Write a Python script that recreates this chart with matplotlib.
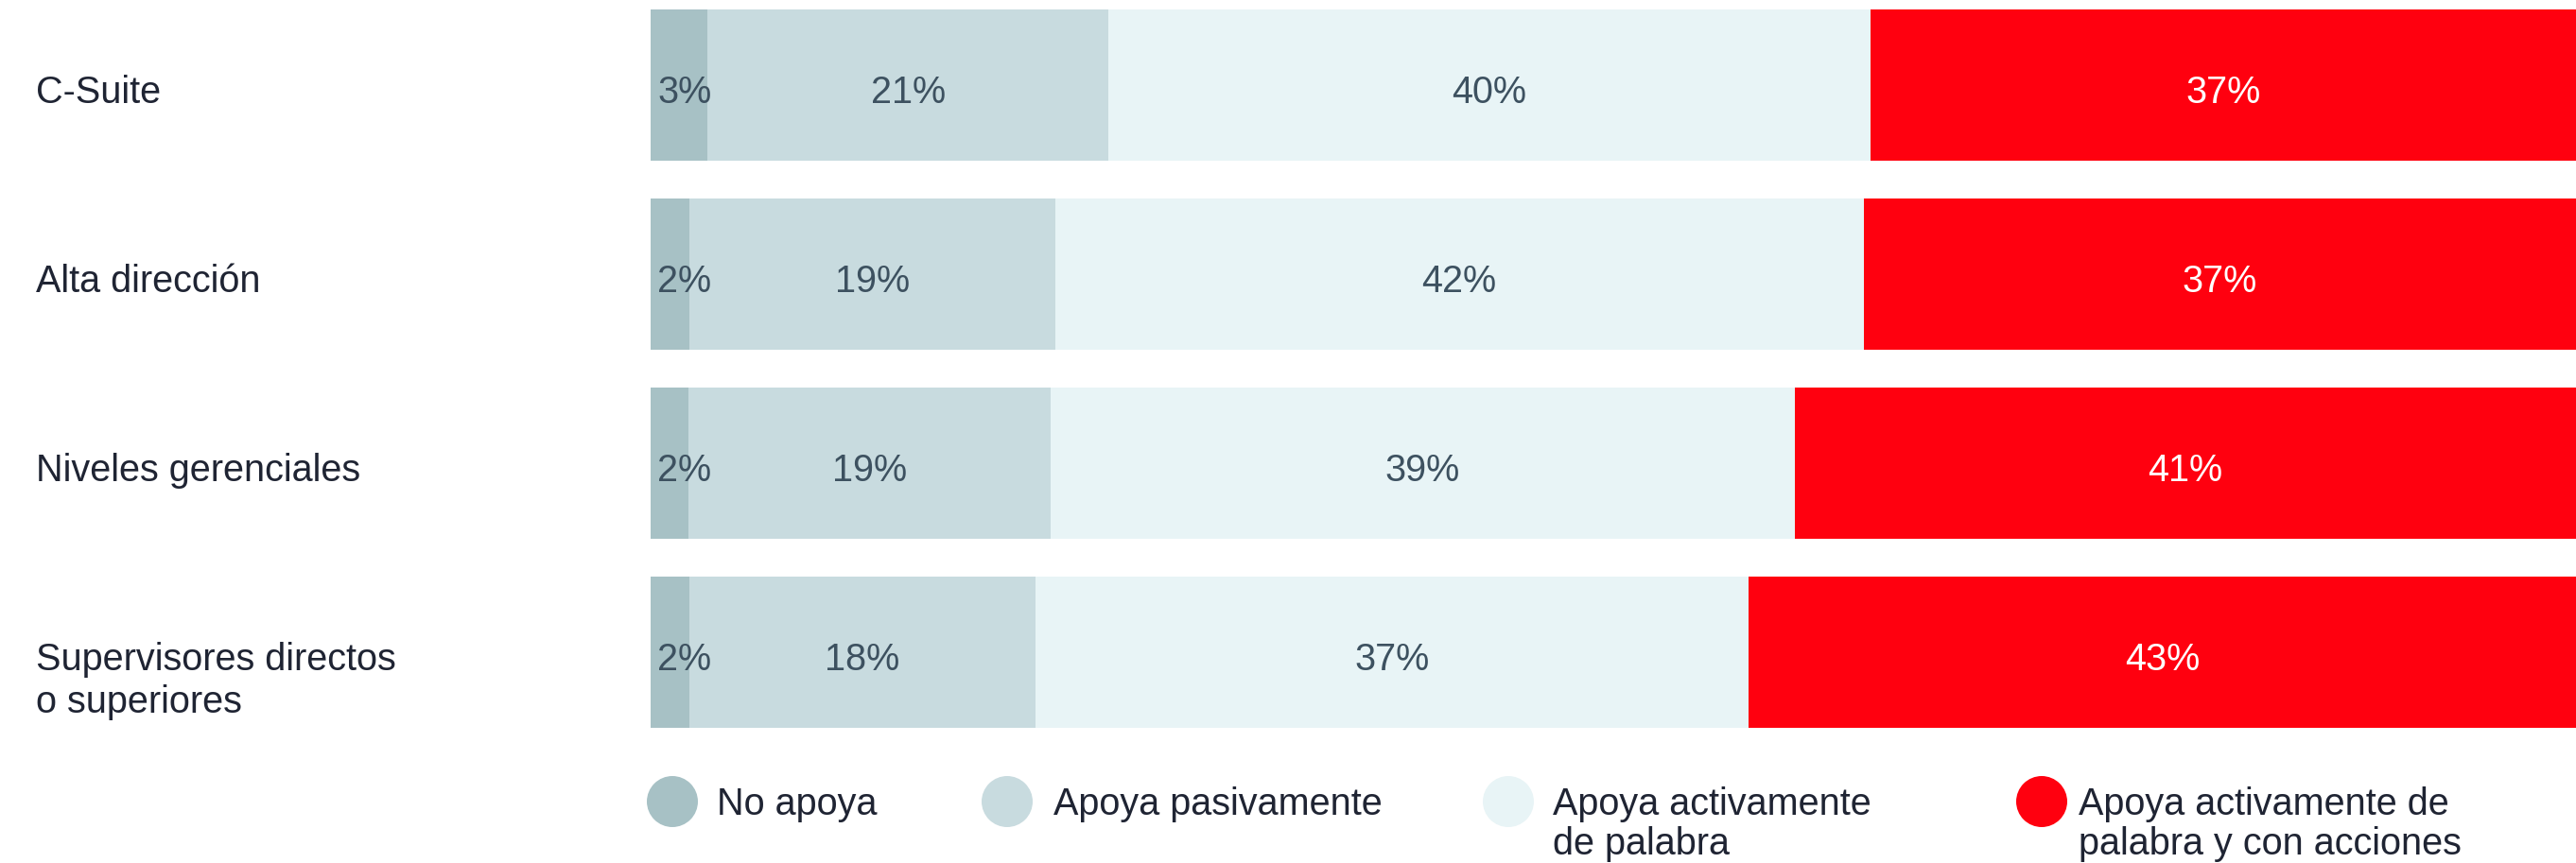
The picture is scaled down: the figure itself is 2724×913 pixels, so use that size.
import numpy as np
import matplotlib.pyplot as plt
import matplotlib.transforms as mtransforms
from matplotlib.patches import Ellipse

plt.rcParams['font.family'] = ['Liberation Sans', 'DejaVu Sans']

categories = ["C-Suite", "Alta dirección", "Niveles gerenciales",
              "Supervisores directos\no superiores"]
no_apoya = [3, 2, 2, 2]
apoya_pasiva = [21, 19, 19, 18]
apoya_palabra = [40, 42, 39, 37]
apoya_acciones = [37, 37, 41, 43]
series_labels = ["No apoya", "Apoya pasivamente",
                 "Apoya activamente\nde palabra",
                 "Apoya activamente de\npalabra y con acciones"]

colors = ["#a7c1c5", "#c8dbdf", "#e8f4f6", "#ff000f"]
value_colors = ["#3d5160", "#3d5160", "#3d5160", "white"]
text_color = "#1f2433"
fs = 28.5

W, H = 2724, 913
fig = plt.figure(figsize=(W / 100, H / 100), dpi=100)
bar_left = 688
ax = fig.add_axes([bar_left / W, 0, 1 - bar_left / W, 1])
# one row = 200 px, first row centred 90 px from the top
ax.set_xlim(0, 100)
ax.set_ylim(-0.45 + H / 200, -0.45)
ax.axis("off")

data = np.array([no_apoya, apoya_pasiva, apoya_palabra, apoya_acciones], dtype=float)
shares = data / data.sum(axis=0) * 100
y = np.arange(len(categories))
left = np.zeros(len(categories))
base = 0.095  # baseline offset below bar centre

for k in range(len(series_labels)):
    ax.barh(y, shares[k], left=left, height=0.8, color=colors[k], linewidth=0)
    for i in range(len(categories)):
        if shares[k][i] < 5:
            x, ha = left[i] + 0.35, "left"
        else:
            x, ha = left[i] + shares[k][i] / 2, "center"
        ax.text(x, y[i] + base, f"{data[k][i]:.0f}%", ha=ha, va="baseline",
                fontsize=fs, color=value_colors[k])
    left += shares[k]

# category labels at the left edge of the figure
trans = mtransforms.blended_transform_factory(fig.transFigure, ax.transData)
for i, cat in enumerate(categories):
    for j, line in enumerate(cat.split("\n")):
        ax.text(38 / W, y[i] + base + j * 0.225, line, transform=trans,
                ha="left", va="baseline", fontsize=fs, color=text_color)

# legend drawn by hand
marker_x = [711, 1065, 1595, 2159]
label_x = [758, 1114, 1642, 2198]
marker_y = 848
label_y = 862
line_step = 42
d = 54
for k, lab in enumerate(series_labels):
    fig.add_artist(Ellipse((marker_x[k] / W, 1 - marker_y / H), d / W, d / H,
                           transform=fig.transFigure, color=colors[k], lw=0))
    for j, line in enumerate(lab.split("\n")):
        fig.text(label_x[k] / W, 1 - (label_y + j * line_step) / H, line,
                 ha="left", va="baseline", fontsize=fs, color=text_color)

fig.savefig("out.png", dpi=100, facecolor="white")
